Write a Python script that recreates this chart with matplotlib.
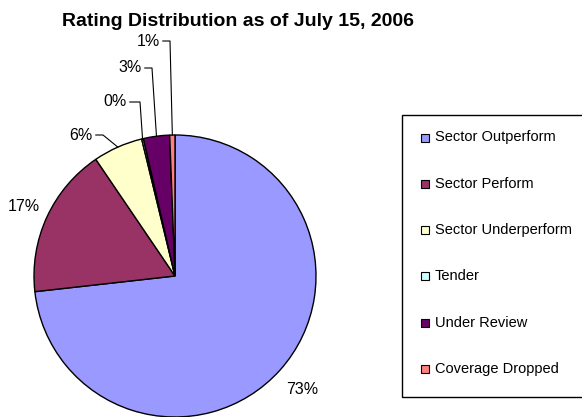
import numpy as np
import matplotlib
matplotlib.use("Agg")
import matplotlib.pyplot as plt
from matplotlib.patches import Rectangle

plt.rcParams['font.family'] = ['Liberation Sans', 'DejaVu Sans']

categories = ["Sector Outperform", "Sector Perform", "Sector Underperform",
              "Tender", "Under Review", "Coverage Dropped"]
values = [73.3, 17.3, 5.7, 0.2, 3.0, 0.6]
pct_labels = ["73%", "17%", "6%", "0%", "3%", "1%"]
colors = ["#9999FF", "#993366", "#FFFFCC", "#CCFFFF", "#660066", "#FF8080"]
title = "Rating Distribution as of July 15, 2006"

W, H = 582, 417
fig = plt.figure(figsize=(W / 100, H / 100), dpi=100)

cx, cy, r = 175, 276, 141
ax = fig.add_axes([(cx - r) / W, (H - cy - r) / H, 2 * r / W, 2 * r / H])
wedges, _ = ax.pie(values, colors=colors, startangle=90, counterclock=False,
                   radius=1, wedgeprops=dict(edgecolor="black", linewidth=1.0))
ax.set_xlim(-1, 1)
ax.set_ylim(-1, 1)
ax.set_aspect("equal")
ax.axis("off")

def to_data(px, py):
    return (px - cx) / r, (cy - py) / r

fs = 11.5
# large labels along the mid angle
for i, fac in [(0, 1.21), (1, 1.18)]:
    w = wedges[i]
    th = np.deg2rad((w.theta1 + w.theta2) / 2)
    ax.text(fac * np.cos(th), fac * np.sin(th), pct_labels[i], ha="center",
            va="center", fontsize=fs, clip_on=False)

# small labels with leader lines: (text right end px, elbow px, y px)
leader = {2: (93, 103, 135), 3: (127, 140, 102), 4: (142, 152, 68), 5: (160, 170, 41)}
for i, (tx, ex, ty) in leader.items():
    w = wedges[i]
    th = np.deg2rad((w.theta1 + w.theta2) / 2)
    ax0, ay0 = np.cos(th), np.sin(th)
    exd, eyd = to_data(ex, ty)
    txd, _ = to_data(tx, ty)
    ax.plot([ax0, exd, txd + 0.02], [ay0, eyd, eyd], color="black", lw=0.8,
            clip_on=False)
    ax.text(txd, eyd, pct_labels[i], ha="right", va="center", fontsize=fs,
            clip_on=False)

fig.text(237.5 / W, 1 - 26 / H, title, ha="center", va="baseline",
         fontsize=14, fontweight="bold")

# legend box (right edge runs past the figure)
lx0, ly0, lx1, ly1 = 401.5, 115, 600, 397
fig.patches.append(Rectangle((lx0 / W, 1 - ly1 / H), (lx1 - lx0) / W,
                             (ly1 - ly0) / H, transform=fig.transFigure,
                             facecolor="white", edgecolor="black", lw=1.0))
first_y, step = 137.5, 46.3
sq = 8
for k, (lab, col) in enumerate(zip(categories, colors)):
    yy = first_y + k * step
    fig.patches.append(Rectangle(((425 - sq / 2) / W, 1 - (yy + sq / 2) / H),
                                 sq / W, sq / H, transform=fig.transFigure,
                                 facecolor=col, edgecolor="black", lw=0.8))
    fig.text(435 / W, 1 - yy / H, lab, ha="left", va="center", fontsize=10.5)

fig.savefig("out.png", dpi=100)
